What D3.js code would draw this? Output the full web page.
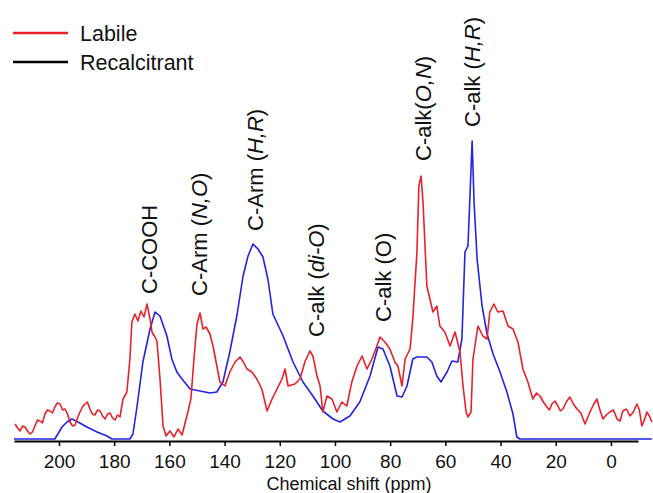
<!DOCTYPE html>
<html>
<head>
<meta charset="utf-8">
<script src="https://cdn.jsdelivr.net/npm/d3@7"></script>
<style>
  body { margin: 0; background: #fff; }
  svg { display: block; font-family: "Liberation Sans", Arial, sans-serif; }
</style>
</head>
<body>
<svg id="chart" width="653" height="493"></svg>
<script>
// ---- data ----
const seriesNames = ["Labile", "Recalcitrant"];
const tickValues = [200, 180, 160, 140, 120, 100, 80, 60, 40, 20, 0];

// [chemical shift (ppm), intensity]
const labile = [
  [215.9,16],[215.0,12],[214.1,9],[213.2,14],[212.3,13],[211.4,9],[210.5,6],[209.6,8],[208.7,14],[207.8,20],
  [206.9,19],[206.0,17],[205.1,26],[204.2,30],[203.3,29],[202.4,27],[201.5,33],[200.6,37],[199.6,36],[198.7,30],
  [197.8,31],[196.9,26],[196.0,18],[195.1,14],[194.2,15],[193.3,22],[192.4,28],[191.5,33],[190.6,36],[189.7,38],
  [188.8,31],[187.9,26],[187.0,25],[186.0,30],[185.1,29],[184.2,24],[183.3,21],[182.4,26],[181.5,27],[180.6,22],
  [179.7,20],[178.8,25],[177.9,23],[176.8,41],[175.4,48],[174.3,81],[173.6,118],[172.5,126],[171.4,119],[170.3,129],
  [169.2,123],[168.1,136],[167.0,121],[166.3,108],[165.2,103],[164.5,99],[163.4,61],[162.3,14],[161.2,4],[159.8,9],
  [158.3,3],[156.9,11],[155.4,5],[154.4,16],[153.3,28],[152.2,41],[151.1,81],[150.0,116],[148.9,127],[147.8,111],
  [146.7,113],[145.3,106],[144.2,94],[142.8,74],[141.7,58],[139.9,54],[138.1,68],[136.2,78],[134.4,83],[133.0,77],
  [131.9,71],[130.1,68],[128.3,61],[126.5,51],[124.6,29],[122.8,41],[121.0,51],[119.2,61],[118.1,71],[117.0,54],
  [114.5,56],[112.7,61],[110.9,78],[109.1,89],[108.0,84],[106.5,64],[105.4,54],[104.4,28],[102.9,44],[101.1,41],
  [99.3,28],[97.5,38],[95.7,34],[93.9,58],[92.0,74],[90.2,84],[88.4,71],[86.6,81],[84.8,94],[83.7,103],
  [81.9,98],[80.1,91],[78.3,78],[77.2,74],[75.7,54],[74.6,81],[72.8,91],[71.8,121],[70.3,188],[69.6,254],
  [68.8,264],[68.1,238],[66.7,154],[65.6,141],[64.5,128],[63.1,134],[62.0,114],[60.2,108],[58.3,94],[56.5,108],
  [54.7,88],[53.6,54],[52.5,28],[51.8,23],[50.7,28],[50.0,81],[48.2,114],[46.4,104],[44.9,101],[43.9,128],
  [42.4,136],[41.0,128],[39.1,129],[37.3,114],[35.5,111],[33.7,98],[31.9,71],[30.1,58],[28.3,41],[27.0,47],
  [25.7,44],[24.5,38],[23.2,33],[22.3,30],[21.4,36],[20.3,39],[19.2,34],[18.3,29],[17.4,31],[16.2,38],
  [14.9,43],[13.6,36],[12.3,31],[10.9,27],[9.4,16],[8.5,22],[7.6,28],[6.4,35],[5.1,41],[4.0,30],
  [2.9,21],[1.7,25],[0.4,28],[-0.9,30],[-2.2,21],[-3.3,19],[-4.3,29],[-5.6,31],[-6.9,24],[-8.1,28],
  [-9.4,36],[-10.3,30],[-11.2,14],[-12.1,20],[-13.0,28],[-13.9,24],[-14.8,18]
];

const recalcitrant = [
  [216.3,1],[201.5,1],[200.4,6],[198.9,13],[197.1,18],[195.3,21],[193.1,18],[189.9,13],[186.2,8],[182.6,4],
  [180.8,1],[174.3,1],[173.2,6],[171.7,34],[169.6,78],[167.0,111],[165.2,128],[163.4,124],[160.9,104],[159.1,81],
  [157.3,68],[155.4,61],[152.5,51],[148.9,49],[145.3,47],[142.8,48],[140.6,58],[138.1,88],[135.5,125],[133.3,164],
  [131.5,184],[129.7,196],[127.9,191],[126.1,183],[124.3,161],[122.5,126],[118.8,104],[115.2,78],[111.6,58],[108.0,44],
  [104.4,29],[100.7,21],[98.2,18],[94.6,24],[91.0,38],[87.3,64],[84.4,93],[82.6,91],[80.1,74],[77.5,44],
  [75.7,43],[73.9,54],[71.8,81],[70.3,83],[66.7,83],[64.9,78],[63.1,64],[61.6,58],[59.4,68],[57.6,79],
  [55.5,78],[54.0,101],[52.9,188],[51.8,194],[50.7,271],[50.3,299],[49.6,238],[48.5,181],[46.7,134],[44.9,106],
  [42.7,86],[40.2,68],[37.7,48],[35.5,26],[34.1,3],[33.0,1],[-14.8,1]
];

// peak annotations: text parts [text, italic], anchor ppm and intensity
const peakLabels = [
  { parts: [["C-COOH", false]], ppm: 164.5, val: 146 },
  { parts: [["C-Arm (", false], ["N,O", true], [")", false]], ppm: 146.4, val: 144 },
  { parts: [["C-Arm (", false], ["H,R", true], [")", false]], ppm: 126.1, val: 209 },
  { parts: [["C-alk (", false], ["di-O", true], [")", false]], ppm: 104.0, val: 103 },
  { parts: [["C-alk (O)", false]], ppm: 79.7, val: 118 },
  { parts: [["C-alk(", false], ["O,N", true], [")", false]], ppm: 65.2, val: 279 },
  { parts: [["C-alk (", false], ["H,R", true], [")", false]], ppm: 47.5, val: 313 }
];

// ---- drawing ----
const svg = d3.select("#chart");
const lineColors = { Labile: "#e8202a", Recalcitrant: "#2222e8" };
const legendColors = { Labile: "#e8202a", Recalcitrant: "#000000" };

const x = d3.scaleLinear().domain([216.3, -9.8]).range([14, 638]);
const y = d3.scaleLinear().domain([0, 300]).range([440, 140]);

const line = d3.line().x(d => x(d[0])).y(d => y(d[1]));

svg.append("path").datum(recalcitrant)
  .attr("d", line).attr("fill", "none")
  .attr("stroke", lineColors.Recalcitrant).attr("stroke-width", 1.6)
  .attr("stroke-linejoin", "round");

svg.append("path").datum(labile)
  .attr("d", line).attr("fill", "none")
  .attr("stroke", lineColors.Labile).attr("stroke-width", 1.6)
  .attr("stroke-linejoin", "round");

// axis
const axis = d3.axisBottom(x).tickValues(tickValues).tickSize(5).tickSizeOuter(0).tickPadding(9);
const gx = svg.append("g").attr("transform", "translate(0,441)").call(axis);
gx.select(".domain").attr("stroke", "#000").attr("stroke-width", 2);
gx.selectAll(".tick line").attr("stroke", "#000").attr("stroke-width", 1.5);
gx.selectAll(".tick text").attr("font-size", 19).attr("fill", "#111")
  .attr("font-family", "'Liberation Sans', Arial, sans-serif");

svg.append("text").attr("x", 349).attr("y", 490)
  .attr("text-anchor", "middle").attr("font-size", 18).attr("fill", "#111")
  .text("Chemical shift (ppm)");

// legend
seriesNames.forEach((name, i) => {
  const ly = 33 + i * 29;
  svg.append("line").attr("x1", 13).attr("x2", 68).attr("y1", ly).attr("y2", ly)
    .attr("stroke", legendColors[name]).attr("stroke-width", 2.5);
  svg.append("text").attr("x", 80).attr("y", ly + 7.5)
    .attr("font-size", 21.5).attr("fill", "#111").text(name);
});

// peak labels
peakLabels.forEach(lb => {
  const t = svg.append("text")
    .attr("transform", `translate(${x(lb.ppm)},${y(lb.val)}) rotate(-90)`)
    .attr("font-size", 22).attr("fill", "#111");
  lb.parts.forEach(p => {
    t.append("tspan").attr("font-style", p[1] ? "italic" : "normal").text(p[0]);
  });
});
</script>
</body>
</html>
